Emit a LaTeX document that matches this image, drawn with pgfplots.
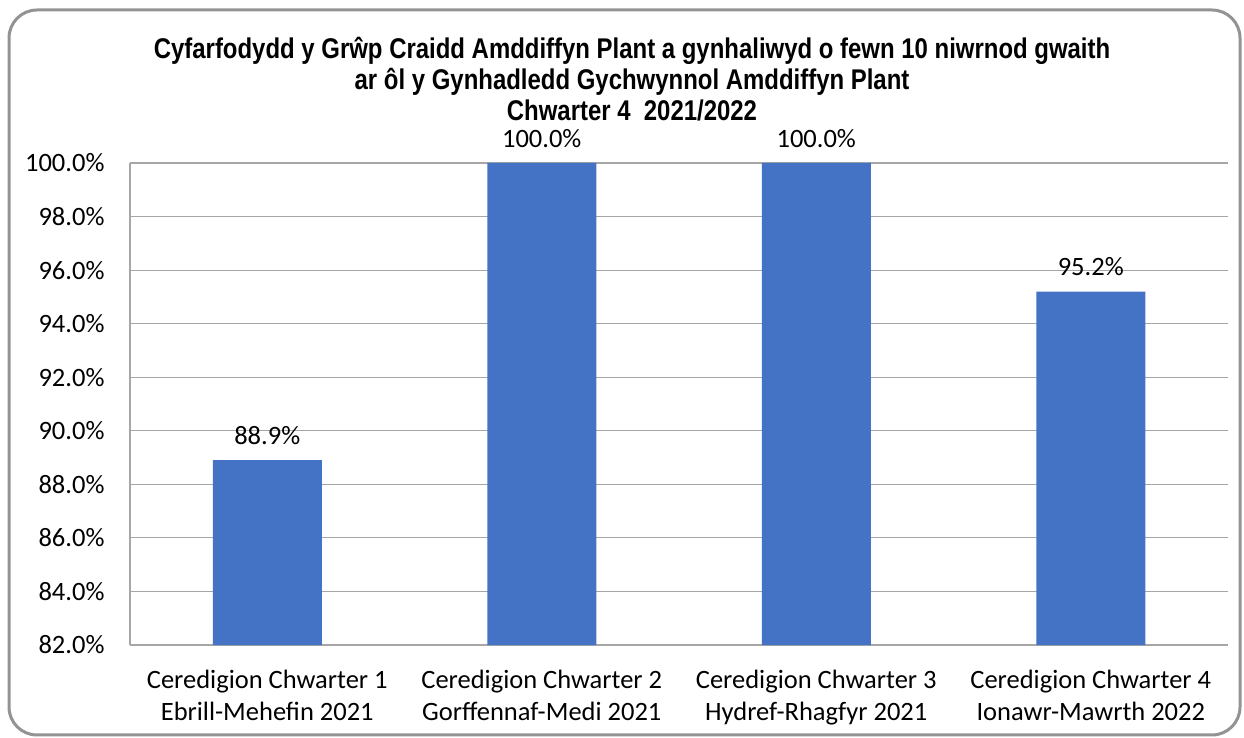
\documentclass[border=0pt]{standalone}
\usepackage{pgfplots}
\pgfplotsset{compat=1.18}
\usepackage{fontspec}
\setmainfont{Carlito}
\newfontfamily\titlefont[FakeStretch=0.84]{Liberation Sans}
\definecolor{barblue}{HTML}{4472C4}
\definecolor{gridgray}{HTML}{A6A6A6}
\begin{document}
\begin{tikzpicture}
\useasboundingbox (0,0) rectangle (1244bp,738bp);
\draw[gray!85, line width=3bp, rounded corners=28bp] (9bp,3bp) rectangle (1240bp,728bp);
\node[align=center, font=\titlefont\bfseries\fontsize{28.5bp}{31bp}\selectfont] at (632bp,659bp)
  {Cyfarfodydd y Grŵp Craidd Amddiffyn Plant a gynhaliwyd o fewn 10 niwrnod gwaith\\
   ar ôl y Gynhadledd Gychwynnol Amddiffyn Plant\\
   Chwarter 4\ \ 2021/2022};
\begin{axis}[
    at={(130bp,93bp)}, anchor=south west,
    scale only axis,
    width=1098bp, height=482bp,
    ybar, bar width=109bp,
    xmin=0.5, xmax=4.5,
    ymin=82, ymax=100,
    ytick={82,84,...,100},
    yticklabels={82.0\%,84.0\%,86.0\%,88.0\%,90.0\%,92.0\%,94.0\%,96.0\%,98.0\%,100.0\%},
    xtick={1,2,3,4},
    xticklabels={{Ceredigion Chwarter 1\\Ebrill-Mehefin 2021},
                 {Ceredigion Chwarter 2\\Gorffennaf-Medi 2021},
                 {Ceredigion Chwarter 3\\Hydref-Rhagfyr 2021},
                 {Ceredigion Chwarter 4\\Ionawr-Mawrth 2022}},
    major tick length=0pt,
    tick label style={font=\fontsize{26.5bp}{32bp}\selectfont},
    xticklabel style={align=center, yshift=-22bp},
    yticklabel style={xshift=-22bp},
    axis x line*=bottom, axis y line*=left,
    axis line style={-, draw=gridgray, line width=1.5bp},
    ymajorgrids, grid style={draw=gridgray, line width=1.2bp},
    clip=false,
    nodes near coords,
    point meta=explicit symbolic,
    every node near coord/.append style={font=\fontsize{26.5bp}{30bp}\selectfont, yshift=12bp},
]
\addplot[fill=barblue, draw=none] coordinates {
    (1,88.9) [88.9\%]
    (2,100.0) [100.0\%]
    (3,100.0) [100.0\%]
    (4,95.2) [95.2\%]
};
\end{axis}
\end{tikzpicture}
\end{document}
